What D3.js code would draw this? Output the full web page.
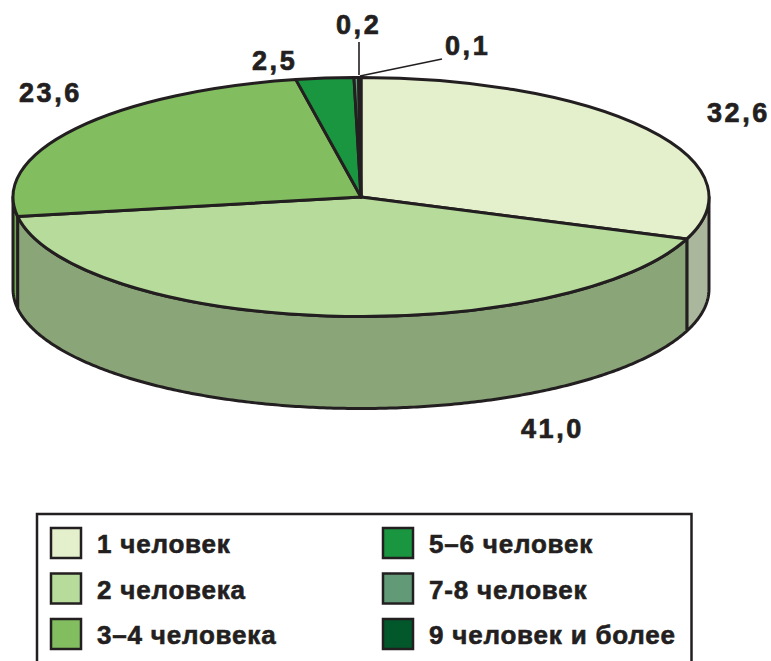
<!DOCTYPE html>
<html><head><meta charset="utf-8">
<script src="https://cdn.jsdelivr.net/npm/d3@7"></script>
<style>
html,body{margin:0;padding:0;background:#fff}
svg{display:block}
text{font-family:"Liberation Sans",Arial,sans-serif;font-weight:700;fill:#231f20;stroke:#231f20;paint-order:stroke}
.nss{vector-effect:non-scaling-stroke}
</style></head><body>
<svg id="c" width="771" height="661"></svg>
<script>
const categories=["1 человек","2 человека","3–4 человека","5–6 человек","7-8 человек","9 человек и более"];
const values=[32.6,41.0,23.6,2.5,0.2,0.1];
const valueLabels=["32,6","41,0","23,6","2,5","0,2","0,1"];
const topColors=["#e4efcb","#b6db9b","#82bd5f","#1b9640","#629a78","#02582a"];
const wallColors=["#abb79d","#8aa679","#6fa653","#1b9640","#629a78","#02582a"];

const ink="#231f20";
const cx=361,cy=197,rx=348,ry=119.5,depth=92;
const deg=Math.PI/180;
const svg=d3.select("#c");

const pie=d3.pie().sort(null).value(d=>d);
const arcs=pie(values);
// the hand-drawn original compresses the angles slightly; warp true → drawn
const warp=d3.scaleLinear()
  .domain([0,117.4,265,350,360].map(d=>d*deg))
  .range([0,110.6,260.7,349.3,360].map(d=>d*deg));
arcs.forEach(a=>{a.startAngle=warp(a.startAngle);a.endAngle=warp(a.endAngle);});

const px=t=>cx+rx*Math.sin(t);
const py=(t,dy=0)=>cy-ry*Math.cos(t)+dy;

// side wall
const wall=svg.append("g");
arcs.forEach((a,i)=>{
  const s=Math.max(a.startAngle,90*deg),e=Math.min(a.endAngle,270*deg);
  if(e<=s)return;
  const ts=d3.range(s,e,0.01).concat([e]);
  const line=d3.line().x(t=>px(t)).y(t=>py(t));
  const lineB=d3.line().x(t=>px(t)).y(t=>py(t,depth));
  const d=line(ts)+"L"+lineB(ts.slice().reverse()).slice(1)+"Z";
  wall.append("path").attr("d",d).attr("fill",wallColors[i])
    .attr("stroke",ink).attr("stroke-width",3).attr("stroke-linejoin","round");
});

// top face
const arc=d3.arc().innerRadius(0).outerRadius(rx);
const topFace=svg.append("g").attr("transform",`translate(${cx},${cy}) scale(1,${ry/rx})`);
topFace.selectAll("path").data(arcs).join("path")
  .attr("class","nss").attr("d",arc)
  .attr("fill",(d,i)=>topColors[i])
  .attr("stroke",ink).attr("stroke-width",3).attr("stroke-linejoin","round");

// leader lines
svg.append("line").attr("x1",359).attr("y1",75).attr("x2",359).attr("y2",42)
  .attr("stroke",ink).attr("stroke-width",1.6);
svg.append("line").attr("x1",360).attr("y1",76).attr("x2",442).attr("y2",59)
  .attr("stroke",ink).attr("stroke-width",1.6);

// value labels
const labelPos=[[707,122],[521,438],[19,102],[252,70],[336,34],[445,55]];
svg.selectAll("text.v").data(valueLabels).join("text").attr("class","v")
  .attr("x",(d,i)=>labelPos[i][0]).attr("y",(d,i)=>labelPos[i][1])
  .attr("font-size",27).attr("letter-spacing",2.6).attr("stroke-width",0.7).text(d=>d);

// legend
svg.append("path").attr("d","M37,661V514H691.5V661").attr("fill","none")
  .attr("stroke",ink).attr("stroke-width",2.5);
const col=d3.scaleOrdinal().domain([0,1]).range([51,383]);
const row=d3.scalePoint().domain([0,1,2]).range([528,619]);
const lg=svg.selectAll("g.l").data(categories).join("g").attr("class","l")
  .attr("transform",(d,i)=>`translate(${col(Math.floor(i/3))},${row(i%3)})`);
lg.append("rect").attr("width",30).attr("height",30)
  .attr("fill",(d,i)=>topColors[i]).attr("stroke",ink).attr("stroke-width",2.5);
lg.append("text").attr("x",46).attr("y",25).attr("font-size",26)
  .attr("letter-spacing",0.8).attr("stroke-width",0.6).text(d=>d);
</script>
</body></html>
